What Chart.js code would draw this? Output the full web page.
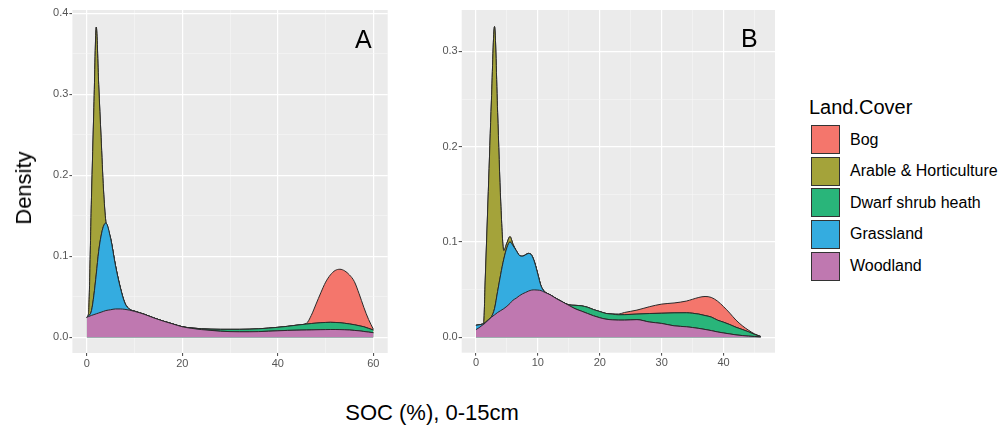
<!DOCTYPE html>
<html><head><meta charset="utf-8">
<script src="https://cdn.jsdelivr.net/npm/chart.js@4.4.1/dist/chart.umd.min.js"></script>
<style>
body{margin:0;background:#fff;}
#wrap{position:relative;width:1005px;height:431px;overflow:hidden;background:#fff;font-family:"Liberation Sans",Arial,sans-serif;color:#000;}
canvas{position:absolute;top:0;}
.t{position:absolute;white-space:nowrap;}
#legend{position:absolute;left:811px;top:125px;}
.row{display:flex;align-items:center;height:29px;margin-bottom:2.67px;}
.key{width:29px;height:29px;box-sizing:border-box;border:1.6px solid #333;}
.lab{margin-left:10px;font-size:16px;white-space:nowrap;}
</style></head><body>
<div id="wrap">
<canvas id="cA" width="400" height="385" style="left:0px"></canvas>
<canvas id="cB" width="390" height="385" style="left:400px"></canvas>
<div class="t" style="left:355px;top:26.5px;font-size:25px;line-height:25px;">A</div>
<div class="t" style="left:741px;top:26px;font-size:25px;line-height:25px;">B</div>
<div class="t" style="left:24px;top:188px;font-size:22px;line-height:22px;transform:translate(-50%,-50%) rotate(-90deg);">Density</div>
<div class="t" style="left:432px;top:413px;font-size:22px;line-height:22px;transform:translate(-50%,-50%);">SOC (%), 0-15cm</div>
<div class="t" style="left:809px;top:96.5px;font-size:20px;line-height:20px;">Land.Cover</div>
<div id="legend"></div>
</div>
<script>
// ---- data ----
const landCovers = ['Bog','Arable & Horticulture','Dwarf shrub heath','Grassland','Woodland'];
const coverColors = ['#F4766C','#A4A33A','#29B57A','#34ACE0','#BF78B0'];

// Panel A
const socA = [0,0.35,1,1.5,2,2.5,3,3.5,4,5,6,7,8,9,10,12,14,16,18,20,22,24,26,28,30,32,34,36,38,40,42,44,46,47,48,49,50,51,52,53,54,55,56,57,58,59,60];
const bogA = [0,0,0,0,0,0,0,0,0,0,0,0,0,0,0,0,0,0,0,0,0,0,0,0,0,0,0,0,0,0,0,0,
  0.001,0.010,0.0235,0.037,0.0497,0.0585,0.0642,0.066,0.0647,0.0605,0.0535,0.0397,0.024,0.011,0.0009];
const arableA = [0,0.002,0.140,0.232,0.305,0.206,0.122,0.046,0.002,
  0,0,0,0,0,0,0,0,0,0,0,0,0,0,0,0,0,0,0,0,0,0,0,0,0,0,0,0,0,0,0,0,0,0,0,0,0,0];
const dwarfA = [0,0,0,0,0,0,0,0,0,0,0,0,0,0,0,0,0,0,0,0,
  0.0005,0.001,0.0015,0.0023,0.0028,0.003,0.0032,0.0035,0.0038,0.0043,0.005,0.0062,0.0073,
  0.0079,0.0082,0.0086,0.0088,0.0089,0.0087,0.0085,0.008,0.0075,0.007,0.0063,0.0058,0.0046,0.0033];
const grassA = [0,0.0007,0.006,0.024,0.049,0.076,0.094,0.105,0.108,0.088,0.054,0.027,0.0075,0.001,0.0003,
  0,0,0,0,0,0,0,0,0,0,0,0,0,0,0,0,0,0,0,0,0,0,0,0,0,0,0,0,0,0,0,0];
const woodA = [0.0247,0.0255,0.027,0.028,0.029,0.030,0.031,0.032,0.033,0.034,0.035,0.035,0.0345,0.0335,0.032,
  0.0285,0.024,0.020,0.0165,0.013,0.011,0.0095,0.0085,0.0075,0.007,0.0068,0.0068,0.007,0.0075,0.008,0.0085,0.0088,0.009,
  0.0091,0.0093,0.0094,0.0095,0.0096,0.0096,0.0095,0.0093,0.009,0.0085,0.008,0.0072,0.0064,0.0057];

// Panel B
const socB = [0,0.5,1,1.25,1.5,2,2.5,3,3.5,4,4.5,5,5.5,6,6.5,7,7.5,8,8.5,9,9.5,10,10.5,11,12,13,14,15,16,17,18,19,20,21,22,23,24,26,28,30,32,34,35,36,37,38,39,40,41,42,43,44,45,46];
const bogB = [0,0,0,0,0,0,0,0,0,0,0,0,0,0,0,0,0,0,0,0,0,0,0,0,0,0,0,0,0,0,0,0,0,0,
  0.0002,0.0008,0.0023,0.0042,0.0071,0.0096,0.0104,0.0123,0.0147,0.0175,0.020,0.0206,0.020,0.0163,0.012,0.0075,0.004,0.0017,0.0005,0];
const arableB = [0,0,0,0.0005,0.0445,0.1345,0.2265,0.296,0.188,0.076,0.009,0.005,0.0056,0.0015,
  0,0,0,0,0,0,0,0,0,0,0,0,0,0,0,0,0,0,0,0,0,0,0,0,0,0,0,0,0,0,0,0,0,0,0,0,0,0,0,0];
const dwarfB = [0,0,0,0,0,0,0,0,0,0,0,0,0,0,0,0,0,0,0,0,0,0,0,0,0,0,0,
  0.0005,0.0035,0.0055,0.0065,0.0065,0.0065,0.006,0.006,0.0056,0.0057,0.0058,0.0089,0.0107,0.0136,0.0147,
  0.015,0.015,0.0146,0.0142,0.0124,0.0113,0.0098,0.008,0.0064,0.0046,0.0022,0.0003];
const grassB = [0.0045,0.003,0.0012,0.0008,0.0005,0.0005,0.0005,0.0065,0.022,0.038,0.052,0.0615,0.0645,0.057,0.050,0.0425,0.0395,0.0395,0.0395,0.0365,0.0283,0.0165,0.005,0.001,
  0,0,0,0,0,0,0,0,0,0,0,0,0,0,0,0,0,0,0,0,0,0,0,0,0,0,0,0,0,0];
const woodB = [0.008,0.010,0.0125,0.0135,0.015,0.018,0.021,0.0235,0.026,0.028,0.030,0.0325,0.0355,0.039,0.041,0.0435,0.0455,0.047,0.0485,0.0495,0.0497,0.0495,0.049,0.0475,
  0.0445,0.0405,0.037,0.0335,0.030,0.0275,0.025,0.0225,0.0205,0.019,0.0183,0.018,0.018,0.0185,0.016,0.0145,0.012,0.011,
  0.0102,0.0093,0.0082,0.007,0.0056,0.0045,0.0035,0.0025,0.0018,0.0012,0.0008,0.0005];

// Ticks
const xMajorA = [0,20,40,60];
const xMinorA = [10,30,50];
const yMajorA = [0,0.1,0.2,0.3,0.4];
const yLabelsA = ['0.0','0.1','0.2','0.3','0.4'];
const yMinorA = [0.05,0.15,0.25,0.35];
const xMajorB = [0,10,20,30,40];
const xMinorB = [5,15,25,35,45];
const yMajorB = [0,0.1,0.2,0.3];
const yLabelsB = ['0.0','0.1','0.2','0.3'];
const yMinorB = [0.05,0.15,0.25];

// ---- legend ----
const leg = document.getElementById('legend');
landCovers.forEach((name,i)=>{
  const r=document.createElement('div'); r.className='row';
  const k=document.createElement('div'); k.className='key'; k.style.background=coverColors[i];
  const l=document.createElement('div'); l.className='lab'; l.textContent=name;
  r.appendChild(k); r.appendChild(l); leg.appendChild(r);
});

// ---- charts ----
const bgPlugin = {id:'bg', beforeDraw(chart){const {ctx,chartArea:a}=chart; ctx.save(); ctx.fillStyle='#EBEBEB'; ctx.fillRect(a.left,a.top,a.right-a.left,a.bottom-a.top); ctx.restore();}};
const near=(v,arr)=>arr.findIndex(m=>Math.abs(m-v)<1e-9);
const FONT = {family:'"Liberation Sans", Arial, sans-serif', size:11};

function buildDatasets(xs, series){
  const out=[];
  for(let i=landCovers.length-1;i>=0;i--){
    out.push({label:landCovers[i], data: xs.map((x,k)=>({x:x,y:series[i][k]})),
      backgroundColor:coverColors[i], borderColor:'#2a2a2a', borderWidth:1, fill:'origin',
      pointRadius:0, pointHoverRadius:0, cubicInterpolationMode:'monotone', stack:'s'});
  }
  return out;
}

function makeChart(id, xs, series, c){
  const xAll=c.xMajor.concat(c.xMinor).sort((a,b)=>a-b);
  const yAll=c.yMajor.concat(c.yMinor).sort((a,b)=>a-b);
  const gridOpts=(maj)=>({
    color: ctx=> (ctx.tick && near(ctx.tick.value,maj)>=0) ? '#ffffff' : '#f6f6f6',
    lineWidth: ctx=> (ctx.tick && near(ctx.tick.value,maj)>=0) ? 1.2 : 0.6,
    tickColor: ctx=> (ctx.tick && near(ctx.tick.value,maj)>=0) ? '#444' : 'rgba(0,0,0,0)',
    tickLength:3, tickWidth:1, drawTicks:true, drawOnChartArea:true
  });
  return new Chart(document.getElementById(id), {
    type:'line',
    data:{datasets: buildDatasets(xs, series)},
    options:{
      responsive:false, animation:false,
      layout:{padding:{top:10,right:c.padRight,left:0,bottom:0}},
      plugins:{legend:{display:false}, tooltip:{enabled:false}},
      scales:{
        x:{type:'linear', min:c.xMin, max:c.xMax,
          afterBuildTicks:s=>{s.ticks=xAll.map(v=>({value:v}));},
          afterFit:s=>{s.height=c.xHeight;},
          grid:gridOpts(c.xMajor), border:{display:false},
          ticks:{autoSkip:false, maxRotation:0, padding:1, color:'#555', font:FONT,
            callback:v=> near(v,c.xMajor)>=0 ? String(v) : ''}},
        y:{type:'linear', stacked:true, min:c.yMin, max:c.yMax,
          afterBuildTicks:s=>{s.ticks=yAll.map(v=>({value:v}));},
          afterFit:s=>{s.width=c.yWidth;},
          grid:gridOpts(c.yMajor), border:{display:false},
          ticks:{autoSkip:false, padding:1, color:'#555', font:FONT,
            callback:v=>{const j=near(v,c.yMajor); return j>=0 ? c.yLabels[j] : '';}}}
      }
    },
    plugins:[bgPlugin]
  });
}

makeChart('cA', socA, [bogA,arableA,dwarfA,grassA,woodA], {
  xMin:-3, xMax:63, yMin:-0.0194, yMax:0.4041, xMajor:xMajorA, xMinor:xMinorA,
  yMajor:yMajorA, yMinor:yMinorA, yLabels:yLabelsA, yWidth:72.4, xHeight:32, padRight:12.3});
makeChart('cB', socB, [bogB,arableB,dwarfB,grassB,woodB], {
  xMin:-2.3, xMax:48.3, yMin:-0.0162, yMax:0.3434, xMajor:xMajorB, xMinor:xMinorB,
  yMajor:yMajorB, yMinor:yMinorB, yLabels:yLabelsB, yWidth:61.7, xHeight:32.3, padRight:15});
</script>
</body></html>
